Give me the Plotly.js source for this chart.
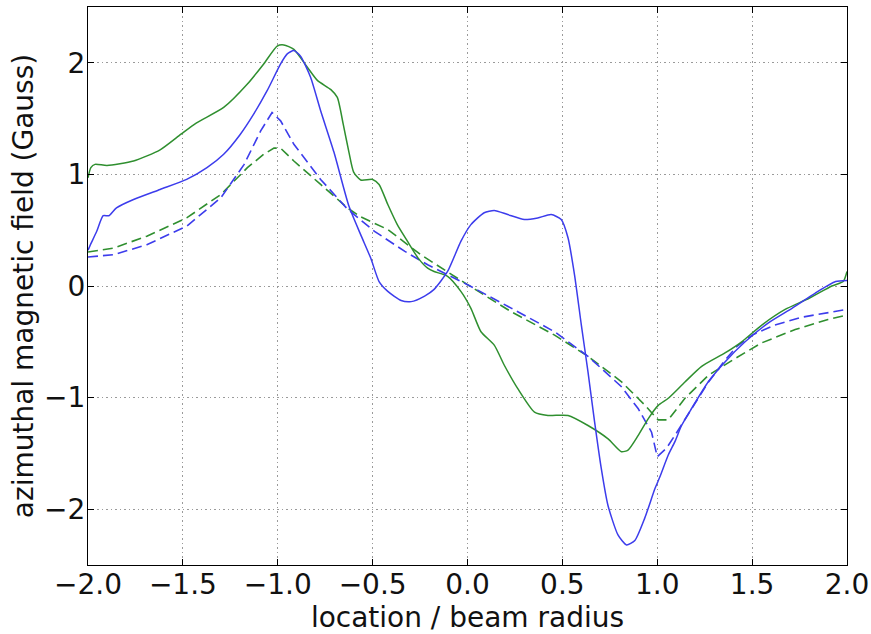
<!DOCTYPE html>
<html>
<head>
<meta charset="utf-8">
<script src="https://cdn.plot.ly/plotly-3.0.1.min.js"></script>
<style>html,body{margin:0;padding:0;background:#fff;}#chart{width:871px;height:634px;}</style>
</head>
<body>
<div id="chart"></div>
<script>
// Blue solid curve
const blueSolidX = [-2.0,-1.99,-1.954,-1.92,-1.89,-1.85,-1.76,-1.62,-1.48,-1.373,-1.285,-1.197,-1.127,-1.056,-0.985,-0.95,-0.915,-0.88,-0.827,-0.774,-0.704,-0.625,-0.563,-0.51,-0.466,-0.42,-0.35,-0.297,-0.226,-0.176,-0.105,-0.035,0.018,0.088,0.141,0.212,0.30,0.37,0.441,0.494,0.53,0.564,0.60,0.635,0.67,0.705,0.74,0.793,0.838,0.882,0.934,0.988,1.014,1.058,1.093,1.128,1.18,1.27,1.357,1.463,1.586,1.71,1.833,1.94,2.0];
const blueSolidY = [0.32,0.36,0.49,0.63,0.63,0.70,0.775,0.865,0.955,1.06,1.18,1.36,1.54,1.75,1.99,2.08,2.11,2.06,1.87,1.57,1.20,0.716,0.46,0.25,0.04,-0.048,-0.13,-0.14,-0.09,-0.03,0.13,0.40,0.55,0.656,0.677,0.64,0.596,0.61,0.64,0.596,0.43,0.10,-0.35,-0.77,-1.22,-1.635,-1.965,-2.23,-2.32,-2.28,-2.08,-1.815,-1.71,-1.515,-1.395,-1.25,-1.10,-0.856,-0.68,-0.50,-0.33,-0.20,-0.063,0.04,0.05];

// Green solid curve
const greenSolidX = [-2.0,-1.985,-1.963,-1.90,-1.76,-1.62,-1.51,-1.43,-1.285,-1.16,-1.074,-1.003,-0.968,-0.915,-0.844,-0.79,-0.72,-0.686,-0.655,-0.625,-0.60,-0.563,-0.50,-0.466,-0.42,-0.37,-0.316,-0.26,-0.21,-0.176,-0.105,-0.035,0.018,0.071,0.141,0.194,0.265,0.353,0.424,0.53,0.635,0.741,0.811,0.846,0.899,0.952,1.005,1.058,1.146,1.234,1.357,1.445,1.551,1.674,1.80,1.92,1.98,2.0];
const greenSolidY = [0.97,1.06,1.09,1.08,1.12,1.22,1.36,1.46,1.60,1.81,1.99,2.15,2.16,2.12,1.96,1.84,1.76,1.69,1.45,1.20,1.02,0.95,0.955,0.91,0.73,0.55,0.40,0.25,0.16,0.13,0.087,-0.048,-0.20,-0.41,-0.53,-0.71,-0.92,-1.13,-1.16,-1.16,-1.25,-1.37,-1.485,-1.47,-1.34,-1.19,-1.07,-1.006,-0.86,-0.72,-0.60,-0.50,-0.35,-0.21,-0.11,0.00,0.04,0.13];

// Blue dashed curve
const blueDashX = [-2.0,-1.866,-1.69,-1.48,-1.30,-1.177,-1.09,-1.03,-0.985,-0.915,-0.774,-0.633,-0.49,-0.33,-0.21,0.0,0.23,0.459,0.635,0.705,0.81,0.90,0.97,1.0,1.05,1.1,1.18,1.27,1.35,1.42,1.5,1.62,1.76,1.90,2.0];
const blueDashY = [0.26,0.28,0.37,0.536,0.79,1.09,1.39,1.555,1.48,1.27,0.955,0.69,0.49,0.31,0.19,0.012,-0.198,-0.41,-0.63,-0.737,-0.90,-1.10,-1.31,-1.53,-1.45,-1.32,-1.10,-0.86,-0.68,-0.54,-0.44,-0.35,-0.28,-0.24,-0.21];

// Green dashed curve
const greenDashX = [-2.0,-1.866,-1.69,-1.48,-1.30,-1.16,-1.074,-1.02,-0.985,-0.915,-0.774,-0.633,-0.563,-0.42,-0.246,0.0,0.23,0.459,0.635,0.81,0.934,1.005,1.058,1.146,1.27,1.41,1.55,1.727,1.90,2.0];
const greenDashY = [0.305,0.34,0.446,0.61,0.82,1.06,1.18,1.235,1.235,1.12,0.91,0.70,0.62,0.506,0.28,0.012,-0.23,-0.44,-0.63,-0.856,-1.066,-1.20,-1.20,-1.006,-0.80,-0.65,-0.51,-0.39,-0.30,-0.26];

const xTickVals = [-2.0,-1.5,-1.0,-0.5,0.0,0.5,1.0,1.5,2.0];
const yTickVals = [-2,-1,0,1,2];
const xTitle = 'location / beam radius';
const yTitle = 'azimuthal magnetic field (Gauss)';

const BLUE = '#3c3cec';
const GREEN = '#2f8f2f';
const FONT = 'DejaVu Sans, sans-serif';

const traces = [
  {x: greenDashX, y: greenDashY, mode: 'lines', line: {color: GREEN, width: 1.6, dash: '10px,5px'}},
  {x: blueDashX, y: blueDashY, mode: 'lines', line: {color: BLUE, width: 1.6, dash: '10px,5px'}},
  {x: greenSolidX, y: greenSolidY, mode: 'lines', line: {color: GREEN, width: 1.5, shape: 'spline', smoothing: 0.6}},
  {x: blueSolidX, y: blueSolidY, mode: 'lines', line: {color: BLUE, width: 1.5, shape: 'spline', smoothing: 0.6}}
];

const axisCommon = {
  showline: true, linecolor: '#000', linewidth: 1, mirror: 'ticks',
  ticks: 'inside', ticklen: 6, tickwidth: 1, tickcolor: '#000',
  showgrid: true, gridcolor: '#9a9a9a', gridwidth: 1, griddash: '1.5px,3px',
  zeroline: false,
  tickfont: {family: FONT, size: 28, color: '#111'}
};

const layout = {
  width: 871, height: 634,
  margin: {l: 88, r: 24, t: 7, b: 69},
  paper_bgcolor: '#fff', plot_bgcolor: '#fff',
  showlegend: false,
  xaxis: Object.assign({}, axisCommon, {
    range: [-2, 2], tickvals: xTickVals, tickformat: '.1f', ticklabelstandoff: -6,
    title: {text: xTitle, font: {family: FONT, size: 28, color: '#111'}, standoff: 10}
  }),
  yaxis: Object.assign({}, axisCommon, {
    range: [-2.5, 2.5], tickvals: yTickVals, tickformat: 'd', ticklabelstandoff: -4,
    title: {text: yTitle, font: {family: FONT, size: 28, color: '#111'}, standoff: 2}
  })
};

Plotly.newPlot('chart', traces, layout, {staticPlot: true, displayModeBar: false});
</script>
</body>
</html>
